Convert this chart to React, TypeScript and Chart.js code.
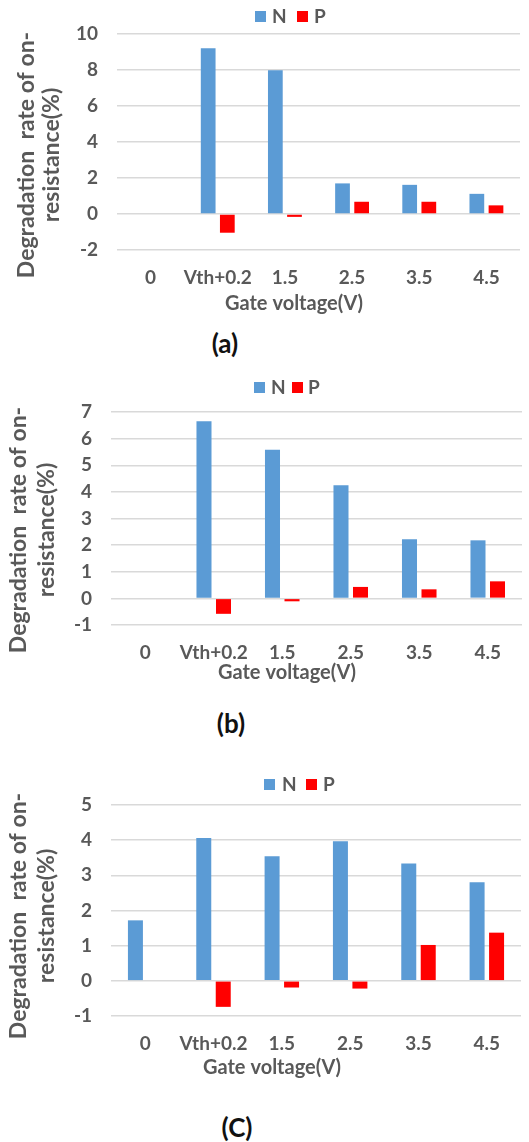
import React, { useEffect, useRef } from "react";
import { Chart, registerables } from "chart.js";

Chart.register(...registerables);

// ---------- data ----------
const categories = ["0", "Vth+0.2", "1.5", "2.5", "3.5", "4.5"];

const nA = [null, 9.21, 7.99, 1.7, 1.62, 1.12];
const pA = [null, -1.04, -0.16, 0.68, 0.68, 0.48];

const nB = [null, 6.65, 5.58, 4.25, 2.22, 2.18];
const pB = [null, -0.58, -0.11, 0.43, 0.34, 0.64];

const nC = [1.72, 4.06, 3.54, 3.97, 3.34, 2.8];
const pC = [null, -0.74, -0.19, -0.22, 1.02, 1.37];

const seriesNames = ["N", "P"];
const xTitle = "Gate voltage(V)";
const yTitleLines = ["Degradation  rate of on-", "resistance(%)"];

const BLUE = "#5B9BD5";
const RED = "#FF0000";
const TEXT = "#595959";
const GRID = "#D9D9D9";
const FONT = "Lato, 'Open Sans', sans-serif";

type Panel = {
  top: number;
  height: number;
  n: (number | null)[];
  p: (number | null)[];
  yMin: number;
  yMax: number;
  step: number;
  area: { left: number; right: number; top: number; bottom: number };
  xLabelPad: number;
  xTitlePos: [number, number];
  yTitleX: [number, number];
  yTitleY: number;
  legend: { y: number; nBox: number; nText: number; pBox: number; pText: number };
  caption: string;
  captionPos: [number, number];
};

const panels: Panel[] = [
  {
    top: 0,
    height: 325,
    n: nA,
    p: pA,
    yMin: -2,
    yMax: 10,
    step: 2,
    area: { left: 117, right: 520, top: 34, bottom: 250 },
    xLabelPad: 16,
    xTitlePos: [294, 304],
    yTitleX: [27, 52],
    yTitleY: 155,
    legend: { y: 16, nBox: 255, nText: 272, pBox: 297, pText: 314 },
    caption: "(a)",
    captionPos: [225, 343],
  },
  {
    top: 365,
    height: 325,
    n: nB,
    p: pB,
    yMin: -1,
    yMax: 7,
    step: 1,
    area: { left: 111, right: 522, top: 412, bottom: 625 },
    xLabelPad: 16,
    xTitlePos: [287, 673],
    yTitleX: [19, 47],
    yTitleY: 530,
    legend: { y: 387, nBox: 254, nText: 271, pBox: 292, pText: 308 },
    caption: "(b)",
    captionPos: [231, 723],
  },
  {
    top: 760,
    height: 325,
    n: nC,
    p: pC,
    yMin: -1,
    yMax: 5,
    step: 1,
    area: { left: 111, right: 521, top: 805, bottom: 1016 },
    xLabelPad: 16,
    xTitlePos: [272, 1068],
    yTitleX: [19, 47],
    yTitleY: 916,
    legend: { y: 784, nBox: 264, nText: 282, pBox: 306, pText: 323 },
    caption: "(C)",
    captionPos: [237, 1127],
  },
];

const W = 529;

function PanelChart({ cfg }: { cfg: Panel }) {
  const ref = useRef<HTMLCanvasElement | null>(null);
  useEffect(() => {
    if (!ref.current) return;
    const t = cfg.top;
    const textPlugin = {
      id: "texts",
      afterDraw(chart: any) {
        const ctx = chart.ctx;
        ctx.save();
        // legend
        const lg = cfg.legend;
        const ly = lg.y - t;
        ctx.fillStyle = BLUE;
        ctx.fillRect(lg.nBox, ly - 5, 11, 11);
        ctx.fillStyle = RED;
        ctx.fillRect(lg.pBox, ly - 5, 11, 11);
        ctx.fillStyle = TEXT;
        ctx.font = `bold 19px ${FONT}`;
        ctx.textAlign = "left";
        ctx.textBaseline = "middle";
        ctx.fillText(seriesNames[0], lg.nText, ly + 1);
        ctx.fillText(seriesNames[1], lg.pText, ly + 1);
        // x title
        ctx.font = `bold 20px ${FONT}`;
        ctx.textAlign = "center";
        ctx.fillText(xTitle, cfg.xTitlePos[0], cfg.xTitlePos[1] - t);
        // y title
        ctx.font = `bold 23px ${FONT}`;
        for (let i = 0; i < yTitleLines.length; i++) {
          ctx.save();
          ctx.translate(cfg.yTitleX[i], cfg.yTitleY - t);
          ctx.rotate(-Math.PI / 2);
          ctx.fillText(yTitleLines[i], 0, 0);
          ctx.restore();
        }
        ctx.restore();
      },
    };
    const a = cfg.area;
    const chart = new Chart(ref.current, {
      type: "bar",
      data: {
        labels: categories,
        datasets: [
          { label: seriesNames[0], data: cfg.n, backgroundColor: BLUE },
          { label: seriesNames[1], data: cfg.p, backgroundColor: RED },
        ],
      },
      options: {
        animation: false,
        responsive: false,
        maintainAspectRatio: false,
        devicePixelRatio: 1,
        categoryPercentage: 0.57,
        barPercentage: 0.77,
        layout: { padding: { left: 0, right: W - a.right, top: a.top - t, bottom: 0 } },
        plugins: { legend: { display: false }, title: { display: false }, tooltip: { enabled: false } },
        scales: {
          x: {
            grid: { display: false, drawTicks: false },
            border: { display: false },
            ticks: {
              color: TEXT,
              font: { family: FONT, size: 19, weight: "bold" },
              padding: cfg.xLabelPad,
              maxRotation: 0,
              autoSkip: false,
            },
            afterFit(scale: any) {
              scale.height = cfg.height - (a.bottom - t);
            },
          },
          y: {
            min: cfg.yMin,
            max: cfg.yMax,
            grid: { color: GRID, lineWidth: 1.5, drawTicks: false },
            border: { display: false },
            ticks: {
              stepSize: cfg.step,
              color: TEXT,
              font: { family: FONT, size: 19, weight: "bold" },
              padding: 19,
            },
            afterFit(scale: any) {
              scale.width = a.left;
            },
          },
        },
      },
      plugins: [textPlugin],
    } as any);
    return () => chart.destroy();
  }, [cfg]);
  return (
    <canvas
      ref={ref}
      width={W}
      height={cfg.height}
      style={{ position: "absolute", left: 0, top: cfg.top, width: W, height: cfg.height }}
    />
  );
}

export default function App() {
  return (
    <div style={{ position: "absolute", left: 0, top: 0, width: W, height: 1142, background: "#fff", overflow: "hidden" }}>
      {panels.map((p, i) => (
        <PanelChart key={i} cfg={p} />
      ))}
      {panels.map((p, i) => (
        <div
          key={"c" + i}
          style={{
            position: "absolute",
            left: p.captionPos[0] - 40,
            top: p.captionPos[1] - 16,
            width: 80,
            height: 32,
            lineHeight: "32px",
            textAlign: "center",
            font: `bold 26px ${FONT}`,
            color: "#111",
          }}
        >
          {p.caption}
        </div>
      ))}
    </div>
  );
}
